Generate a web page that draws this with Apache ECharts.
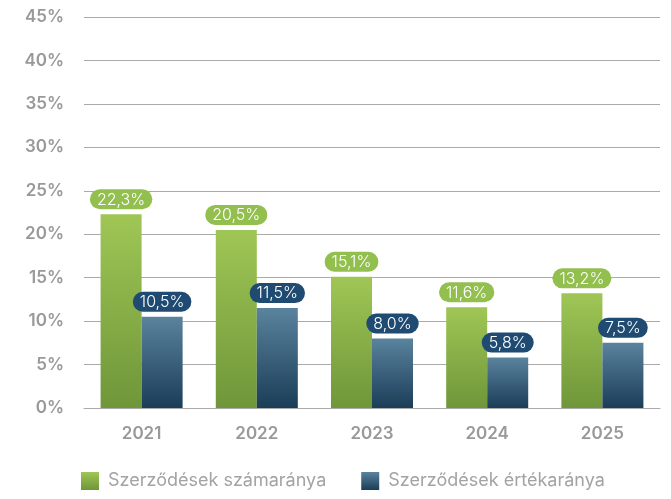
<!DOCTYPE html>
<html>
<head>
<meta charset="utf-8">
<script src="https://cdn.jsdelivr.net/npm/echarts@6/dist/echarts.min.js"></script>
<style>
  html, body { margin: 0; padding: 0; background: #fff; }
  #chart { width: 671px; height: 499px; }
</style>
</head>
<body>
<div id="chart"></div>
<script>
var years = ['2021', '2022', '2023', '2024', '2025']
var countShare = [22.3, 20.5, 15.1, 11.6, 13.2]
var valueShare = [10.5, 11.5, 8.0, 5.8, 7.5]
var seriesNames = ['Szerződések számaránya', 'Szerződések értékaránya']

function grad (top, bottom) {
  return new echarts.graphic.LinearGradient(0, 0, 0, 1, [
    { offset: 0, color: top },
    { offset: 1, color: bottom }
  ])
}

// rounded value badge above each bar
function pill (bg) {
  return {
    show: true,
    position: 'top',
    distance: 5,
    formatter: function (p) { return p.value.toFixed(1).replace('.', ',') + '%' },
    color: '#fff',
    fontFamily: 'Inter',
    fontSize: 16,
    fontWeight: 300,
    lineHeight: 17,
    backgroundColor: bg,
    borderRadius: 10,
    padding: [2, 7, 1, 7]
  }
}

var chart = echarts.init(document.getElementById('chart'))
chart.setOption({
  animation: false,
  grid: { left: 84, right: 11, top: 17, bottom: 91 },
  legend: {
    bottom: 4,
    left: 76,
    itemWidth: 18,
    itemHeight: 18,
    itemGap: 35,
    icon: 'rect',
    textStyle: { color: '#a3a3a3', fontSize: 18, fontFamily: 'Inter', padding: [0, 0, 0, 4] },
    data: seriesNames
  },
  xAxis: {
    type: 'category',
    data: years,
    axisTick: { show: false },
    axisLine: { lineStyle: { color: '#aaa' } },
    axisLabel: { color: '#999', fontSize: 17, fontWeight: 600, fontFamily: 'Inter', margin: 17 }
  },
  yAxis: {
    type: 'value',
    min: 0,
    max: 45,
    interval: 5,
    axisLabel: { formatter: '{value}%', color: '#999', fontSize: 17, fontWeight: 600, fontFamily: 'Inter', margin: 20 },
    splitLine: { lineStyle: { color: '#aaa' } }
  },
  series: [
    {
      name: seriesNames[0],
      type: 'bar',
      data: countShare,
      barWidth: '35.6%',
      barGap: '0%',
      itemStyle: { color: grad('#9fc655', '#6f9639') },
      label: pill('#93bf4f')
    },
    {
      name: seriesNames[1],
      type: 'bar',
      data: valueShare,
      barWidth: '35.6%',
      itemStyle: { color: grad('#5a839d', '#1b3d58') },
      label: pill('#1f4b72')
    }
  ]
})
</script>
</body>
</html>
